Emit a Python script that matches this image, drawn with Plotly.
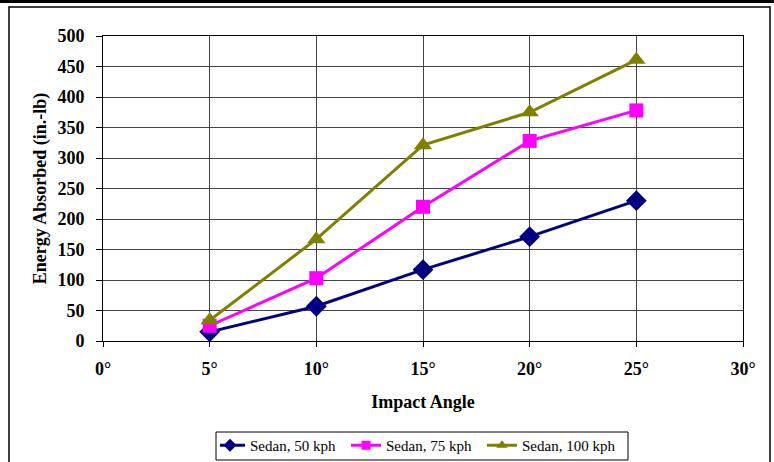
import plotly.graph_objects as go

angles = [5, 10, 15, 20, 25]
sedan_50 = [15, 57, 117, 171, 230]
sedan_75 = [25, 103, 220, 328, 378]
sedan_100 = [34, 167, 321, 375, 461]
x_tickvals = [0, 5, 10, 15, 20, 25, 30]
x_ticktext = ["0°", "5°", "10°", "15°", "20°", "25°", "30°"]
y_tickvals = [0, 50, 100, 150, 200, 250, 300, 350, 400, 450, 500]

W, H = 774, 462
L, R, T, B = 103, 743, 36, 341

def px(x):
    return (x - L) / (R - L)

def py(y):
    return (B - y) / (B - T)

FONT = "Liberation Serif, Times New Roman, serif"

series = [
    ("Sedan, 50 kph", sedan_50, "#000080", "diamond", 16, 10),
    ("Sedan, 75 kph", sedan_75, "#FF00FF", "square", 14, 9),
    ("Sedan, 100 kph", sedan_100, "#808000", "triangle-up", 16, 10),
]

fig = go.Figure()
for name, vals, color, sym, size, lsize in series:
    fig.add_trace(go.Scatter(x=angles, y=vals, name=name, mode="lines+markers",
                             showlegend=False,
                             line=dict(color=color, width=3),
                             marker=dict(symbol=sym, size=size, color=color)))
for name, vals, color, sym, size, lsize in series:
    fig.add_trace(go.Scatter(x=[None], y=[None], name=name, mode="lines+markers",
                             line=dict(color=color, width=3),
                             marker=dict(symbol=sym, size=lsize, color=color)))

fig.update_layout(
    width=W, height=H,
    margin=dict(l=L, r=W - R, t=T, b=H - B, pad=0, autoexpand=False),
    paper_bgcolor="white", plot_bgcolor="white",
    font=dict(family=FONT, color="black"),
    showlegend=True,
    legend=dict(orientation="h", x=px(220), xanchor="left", y=py(429), yanchor="top",
                borderwidth=0, bgcolor="rgba(0,0,0,0)",
                font=dict(family=FONT, size=15, color="black"),
                itemwidth=30, tracegroupgap=0, indentation=-10,
                entrywidth=101, entrywidthmode="pixels"),
    xaxis=dict(range=[0, 30], tickvals=x_tickvals, ticktext=x_ticktext,
               showgrid=True, gridcolor="#444444", gridwidth=1,
               showline=True, linecolor="black", linewidth=1, mirror=True,
               ticks="outside", ticklen=5, tickcolor="black",
               ticklabelstandoff=6, automargin=False,
               tickfont=dict(family=FONT, size=18, color="black", weight="bold"),
               title=dict(text="<b>Impact Angle</b>", font=dict(family=FONT, size=18, color="black"),
                          standoff=17),
               zeroline=False, fixedrange=True),
    yaxis=dict(range=[0, 500], tickvals=y_tickvals,
               showgrid=True, gridcolor="#444444", gridwidth=1,
               showline=True, linecolor="black", linewidth=1, mirror=True,
               ticks="outside", ticklen=6, tickcolor="black",
               ticklabelstandoff=8, automargin=False,
               tickfont=dict(family=FONT, size=18, color="black", weight="bold"),
               title=dict(text="<b>Energy Absorbed (in.-lb)</b>", font=dict(family=FONT, size=18, color="black"),
                          standoff=6),
               zeroline=False, fixedrange=True),
    shapes=[
        dict(type="rect", xref="paper", yref="paper",
             x0=px(9), x1=px(770), y0=py(475), y1=py(7),
             line=dict(color="black", width=1.5), fillcolor="rgba(0,0,0,0)", layer="below"),
        dict(type="rect", xref="paper", yref="paper",
             x0=px(-5), x1=px(780), y0=py(3), y1=py(-5),
             line=dict(width=0), fillcolor="black", layer="above"),
        dict(type="rect", xref="paper", yref="paper",
             x0=px(216), x1=px(628), y0=py(460), y1=py(432),
             line=dict(color="black", width=1), fillcolor="rgba(0,0,0,0)", layer="above"),
    ],
)

fig.write_html("out.html")
